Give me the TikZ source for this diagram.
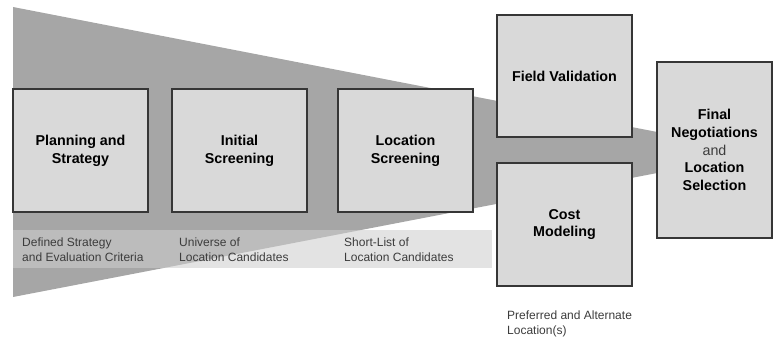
\documentclass[tikz,border=0pt]{standalone}
\usepackage{fontspec}
\setmainfont{Liberation Sans}

\definecolor{funnelgray}{HTML}{A6A6A6}
\definecolor{boxgray}{HTML}{D9D9D9}
\definecolor{bandgray}{HTML}{CECECE}
\definecolor{edgegray}{HTML}{363636}
\definecolor{notegray}{HTML}{3C3C3C}

\tikzset{
  stagebox/.style={draw=edgegray, line width=1.1pt, fill=boxgray, minimum width=135pt,
    minimum height=123pt, inner sep=0pt, align=center, text=black,
    font=\fontsize{14.3}{17.7}\selectfont\bfseries},
  notetext/.style={anchor=west, align=left, inner sep=0pt, text=notegray,
    font=\fontsize{12}{15}\selectfont}
}

\begin{document}
\begin{tikzpicture}[x=1pt, y=-1pt]
  \useasboundingbox (0,0) rectangle (773,339);
  % --- editable bounds for the funnel ---
  \def\fleft{13}     % left edge of the funnel
  \def\fright{665}   % right end (hidden behind the last box)
  % Funnel: grey trapezoid narrowing to the right
  \fill[funnelgray] (\fleft,7) -- (\fright,133.5) -- (\fright,171.5) -- (\fleft,297) -- cycle;
  % Light band behind the outcome notes
  \fill[bandgray, opacity=0.57] (\fleft,230) rectangle (492,268);
  % Stages
  \node[stagebox] (plan) at (80.5,150.5) {Planning and\\Strategy};
  \node[stagebox] (initial) at (239.5,150.5) {Initial\\Screening};
  \node[stagebox] (locscreen) at (405.5,150.5) {Location\\Screening};
  \node[stagebox, minimum height=122pt] (field) at (564.5,76) {Field Validation};
  \node[stagebox] (cost) at (564.5,224.5) {Cost\\Modeling};
  \node[stagebox, minimum width=115pt, minimum height=176pt] (final) at (714.5,150)
    {Final\\Negotiations\\{\mdseries\color{notegray}and}\\Location\\Selection};
  % Outcomes of each stage
  \node[notetext] (planout) at (22,249.5) {Defined Strategy\\and Evaluation Criteria};
  \node[notetext] (initialout) at (179,249.5) {Universe of\\Location Candidates};
  \node[notetext] (locscreenout) at (344,249.5) {Short-List of\\Location Candidates};
  \node[notetext] (costout) at (507,323.5) {Preferred and Alternate\\Location(s)};
\end{tikzpicture}
\end{document}
